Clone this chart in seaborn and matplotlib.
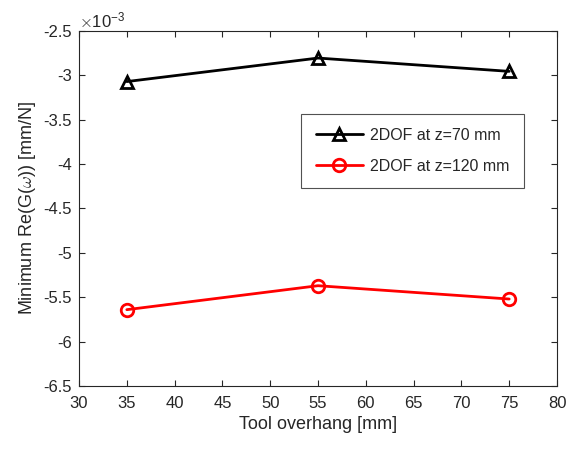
import matplotlib
matplotlib.use("Agg")
import matplotlib.pyplot as plt
import seaborn as sns
from matplotlib.ticker import MultipleLocator, FuncFormatter

overhang = [35, 55, 75]
re_z70 = [-3.07, -2.805, -2.955]
re_z120 = [-5.64, -5.37, -5.52]
labels = ["2DOF at z=70 mm", "2DOF at z=120 mm"]
colors = ["black", "red"]
markers = ["^", "o"]

sns.set_style("white")
plt.rcParams["font.family"] = ["Liberation Sans", "DejaVu Sans"]
plt.rcParams["mathtext.fontset"] = "cm"

fig = plt.figure(figsize=(5.66, 4.49), dpi=100)
ax = fig.add_axes([0.1396, 0.1403, 0.8445, 0.7907])

for ys, lab, c, m in zip([re_z70, re_z120], labels, colors, markers):
    sns.lineplot(x=overhang, y=ys, color=c, marker=m, linewidth=2,
                 markersize=9, markerfacecolor="none", markeredgecolor=c,
                 markeredgewidth=2, label=lab, ax=ax)

ax.set_xlim(30, 80)
ax.set_ylim(-6.5, -2.5)
ax.xaxis.set_major_locator(MultipleLocator(5))
ax.yaxis.set_major_locator(MultipleLocator(0.5))
ax.yaxis.set_major_formatter(FuncFormatter(lambda v, p: f"{v:g}"))
ax.tick_params(direction="in", length=4, width=0.8, labelsize=12, colors="#262626",
               top=True, right=True, bottom=True, left=True, pad=5)
ax.tick_params(axis="x", pad=7)
for s in ax.spines.values():
    s.set_color("#262626")
    s.set_linewidth(0.8)

ax.set_xlabel("Tool overhang [mm]", fontsize=13, color="#262626", labelpad=4)
ax.set_ylabel(r"Minimum Re(G($\omega$)) [mm/N]", fontsize=13, color="#262626", labelpad=4)
ax.text(0.0, 1.003, r"$\times\mathregular{10^{-3}}$", transform=ax.transAxes,
        fontsize=12, color="#262626", ha="left", va="bottom")

leg = ax.legend(loc="upper left", bbox_to_anchor=(0.448, 0.79), frameon=True,
                fancybox=False, edgecolor="#262626", fontsize=11.5, handlelength=3.0,
                borderpad=0.9, labelspacing=1.0, handletextpad=0.4)
leg.get_frame().set_linewidth(0.8)

fig.savefig("out.png", dpi=100)
